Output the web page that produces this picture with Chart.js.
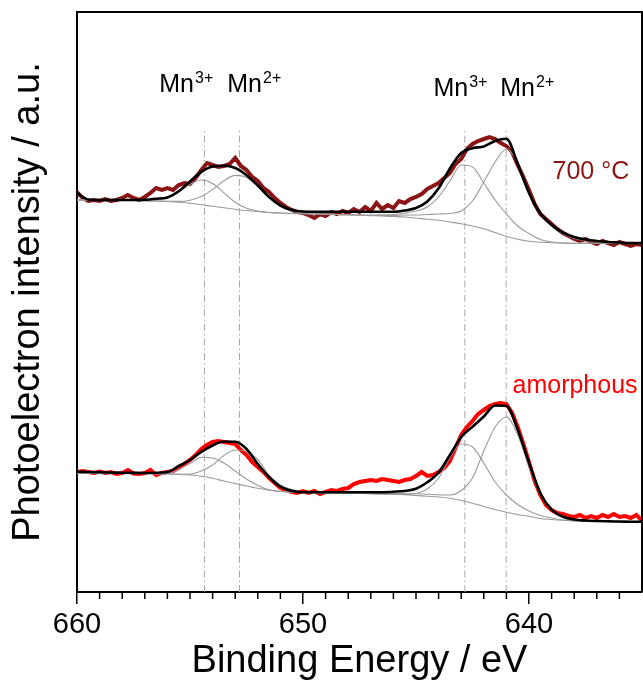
<!DOCTYPE html>
<html>
<head>
<meta charset="utf-8">
<title>Mn 2p XPS</title>
<script src="https://cdn.jsdelivr.net/npm/chart.js@4.4.1/dist/chart.umd.min.js"></script>
<style>
  html, body { margin: 0; padding: 0; background: #fff; }
  #wrap { width: 643px; height: 684px; }
</style>
</head>
<body>
<div id="wrap"><canvas id="xps"></canvas></div>
<script>
// --- binding energies (eV) ---
const energyFit = [
  660, 659.5, 659, 658.5, 658, 657.5, 657, 656.5, 656, 655.5,
  655, 654.5, 654, 653.5, 653, 652.5, 652, 651.5, 651, 650.5,
  650, 649.5, 649, 648.5, 648, 647.5, 647, 646.5, 646, 645.5,
  645, 644.5, 644, 643.5, 643, 642.5, 642, 641.5, 641, 640.5,
  640, 639.5, 639, 638.5, 638, 637.5, 637, 636.5, 636, 635.5, 635
];
const energyRaw = [
  660, 659.75, 659.5, 659.25, 659, 658.75, 658.5, 658.25, 658, 657.75,
  657.5, 657.25, 657, 656.75, 656.5, 656.25, 656, 655.75, 655.5, 655.25,
  655, 654.75, 654.5, 654.25, 654, 653.75, 653.5, 653.25, 653, 652.75,
  652.5, 652.25, 652, 651.75, 651.5, 651.25, 651, 650.75, 650.5, 650.25,
  650, 649.75, 649.5, 649.25, 649, 648.75, 648.5, 648.25, 648, 647.75,
  647.5, 647.25, 647, 646.75, 646.5, 646.25, 646, 645.75, 645.5, 645.25,
  645, 644.75, 644.5, 644.25, 644, 643.75, 643.5, 643.25, 643, 642.75,
  642.5, 642.25, 642, 641.75, 641.5, 641.25, 641, 640.75, 640.5, 640.25,
  640, 639.75, 639.5, 639.25, 639, 638.75, 638.5, 638.25, 638, 637.75,
  637.5, 637.25, 637, 636.75, 636.5, 636.25, 636, 635.75, 635.5, 635.25, 635
];

// --- 700 °C spectrum (offset upward) ---
const rawTop = [
  400, 394, 391, 392, 391, 393, 391, 392, 394, 397,
  394, 392, 395, 399, 404, 402, 404, 402, 407, 409,
  408, 414, 422, 429, 427, 425, 426, 428, 434, 426,
  422, 415, 411, 404, 400, 394, 389, 385, 382, 380,
  379, 377, 374, 378, 376, 380, 378, 381, 379, 383,
  380, 385, 381, 389, 383, 387, 384, 391, 389, 393,
  395, 398, 403, 406, 409, 414, 419, 428, 433, 443,
  448, 451, 453, 455, 453, 449, 446, 440, 427, 415,
  402, 388, 378, 373, 368, 363, 359, 356, 353, 351,
  353, 350, 348, 351, 349, 347, 350, 348, 346, 348, 347
];
const envelopeTop = [
  399, 392.5, 392, 392, 392, 392, 392.2, 393.2, 394.6, 400.8,
  410.6, 420.1, 425.4, 426.2, 424, 416.8, 406.5, 395, 386.5, 382,
  380.5, 380.3, 380.3, 380.3, 380.3, 380.3, 380.3, 380.3, 380.3, 381.5,
  384, 390.5, 403.7, 423.5, 439, 443.8, 445.5, 451, 453.2, 428.3,
  399, 378.7, 367, 359.5, 355, 352.5, 351, 350, 349.5, 349, 349
];
const backgroundTop = [
  392, 392, 392, 392, 391.7, 391.5, 391.2, 391, 390.5, 389.7,
  388.7, 387.3, 385.7, 384.2, 382.8, 381.5, 380.5, 379.5, 379, 378.5,
  378.2, 378, 377.8, 377.5, 377.2, 376.8, 376.4, 376, 375.5, 375,
  374, 372.7, 371.7, 370, 368.2, 366, 363.2, 359.5, 355.7, 352.7,
  350.7, 349.7, 349.2, 349, 348.8, 348.8, 348.8, 348.8, 348.8, 348.8, 348.8
];
const mn3Top = [
  392, 392, 392, 392, 391.7, 391.5, 391.4, 392, 394.4, 399.9,
  407.5, 412, 408.6, 399.2, 389.8, 383.8, 381, 379.5, 379, 378.5,
  378.2, 378, 377.8, 377.5, 377.2, 377, 377, 377.2, 377.5, 379,
  381, 385, 395, 411, 427, 425, 409, 392, 378, 366,
  358.5, 352.5, 350, 349, 348.8, 348.8, 348.8, 348.8, 348.8, 348.8, 348.8
];
const mn2Top = [
  392, 392, 392, 392, 391.7, 391.5, 391.2, 391, 390.7, 390.6,
  391.8, 395.4, 402.5, 411.2, 416.6, 414.5, 405.5, 394.3, 385.8, 380.9,
  378.9, 378.2, 377.8, 377.5, 377.2, 376.8, 376.5, 376.5, 376.5, 377,
  377, 377.5, 378, 378.5, 381, 391, 410, 430, 443, 429,
  399, 378.5, 366, 358.5, 353.5, 351.5, 350, 349.2, 348.8, 348.8, 348.8
];

// --- amorphous spectrum ---
const rawBottom = [
  120, 121, 120, 119, 120.5, 119, 120, 118, 119, 122,
  118.5, 118, 119, 122, 117, 119, 120, 121, 124, 128,
  132, 137, 143, 147, 150, 151, 150, 149, 148, 142,
  137, 130, 125, 120, 114, 109, 104, 102, 100, 99,
  101, 99, 101, 98, 100, 102, 101, 103, 104, 108,
  110, 111, 112, 111, 113, 112, 111, 110, 112, 113,
  116, 120, 116, 117, 120, 124, 131, 144, 157, 165,
  171, 178, 182, 186, 188, 189, 188, 179, 165, 148,
  130, 111, 97, 87, 82, 79, 78, 76, 75, 77,
  74, 76, 74, 77, 75, 78, 75, 76, 74, 77, 71
];
const envelopeBottom = [
  120.3, 120, 119.7, 119.5, 119.3, 119.1, 119, 119.2, 120, 126,
  132, 140, 146.5, 150.5, 150.2, 143, 128, 115, 105.3, 101.2,
  99.7, 99.7, 99.7, 99.7, 99.7, 99.7, 99.7, 99.8, 100.3, 101,
  103.2, 109.7, 119.5, 137, 155, 165.3, 175.5, 186.5, 186, 162.4,
  129.3, 98.7, 82.4, 75.2, 72.5, 71.5, 71, 70.7, 70.5, 70.3, 70.3
];
const backgroundBottom = [
  118.7, 118.7, 118.7, 118.7, 118.7, 118.6, 118.5, 118.3, 118, 117.6,
  117, 115.8, 113.7, 111, 108.5, 106, 103.7, 101.8, 100.5, 99.8,
  99.5, 99.3, 99.1, 98.9, 98.7, 98.5, 98.3, 98, 97.7, 97.2,
  96.5, 95.7, 95, 93.7, 91.5, 88.7, 85.5, 82.5, 79.8, 77.5,
  75.7, 73.5, 72.5, 71.7, 71.2, 70.8, 70.5, 70.4, 70.3, 70.3, 70.3
];
const mn3Bottom = [
  118.7, 118.7, 118.7, 118.7, 118.7, 118.6, 118.5, 118.4, 118.4, 122.5,
  128.5, 134.7, 134, 129, 121, 113, 106.5, 102.2, 100.5, 99.8,
  99.5, 99.3, 99.1, 98.9, 98.7, 98.5, 98.3, 98, 97.7, 97.5,
  98.5, 103, 114, 134, 148, 145, 129, 110, 97, 87.5,
  81, 76.5, 74, 72, 71, 70.7, 70.5, 70.4, 70.3, 70.3, 70.3
];
const mn2Bottom = [
  118.7, 118.7, 118.7, 118.7, 118.7, 118.6, 118.5, 118.3, 118, 117.8,
  118, 121, 127, 136.5, 142, 140.5, 132.5, 116.5, 107, 102.5,
  100, 99.5, 99.3, 99.1, 98.9, 98.7, 98.6, 98.5, 98.5, 98.5,
  98.2, 97.8, 97.2, 97, 101.5, 114, 141, 165, 175, 157,
  125, 97, 82.5, 75.5, 73, 71.5, 71, 70.7, 70.5, 70.3, 70.3
];

// peak positions marked with dash-dot lines (eV)
const peakCenters = [654.36, 652.81, 642.84, 641.01];
const markerTop = 464;

const FONT = "'Liberation Sans', Arial, Helvetica, sans-serif";
const DARK_RED = '#8b1515';
const RED = '#ff0000';
const GREY = '#9a9a9a';

const pts = (xs, ys) => xs.map((e, i) => ({ x: e, y: ys[i] }));

function fitLine(ys, color, width) {
  return {
    data: pts(energyFit, ys),
    borderColor: color,
    borderWidth: width,
    pointRadius: 0,
    fill: false,
    cubicInterpolationMode: 'monotone'
  };
}

function rawLine(ys, color) {
  return {
    data: pts(energyRaw, ys),
    borderColor: color,
    borderWidth: 4,
    pointRadius: 0,
    fill: false,
    tension: 0
  };
}

// first dataset is drawn on top
const datasets = [
  fitLine(envelopeTop, '#000', 2.6),
  fitLine(envelopeBottom, '#000', 2.6),
  fitLine(backgroundTop, GREY, 1.1),
  fitLine(mn3Top, GREY, 1.1),
  fitLine(mn2Top, GREY, 1.1),
  fitLine(backgroundBottom, GREY, 1.1),
  fitLine(mn3Bottom, GREY, 1.1),
  fitLine(mn2Bottom, GREY, 1.1),
  rawLine(rawTop, DARK_RED),
  rawLine(rawBottom, RED),
  ...peakCenters.map(e => ({
    data: [{ x: e, y: 0 }, { x: e, y: markerTop }],
    borderColor: '#a8a8a8',
    borderWidth: 1,
    borderDash: [7, 3, 1.5, 3],
    pointRadius: 0
  }))
];

// frame, minor ticks and text labels
const decorations = {
  id: 'decorations',
  afterDraw(chart) {
    const { ctx, chartArea: a, scales: { x, y } } = chart;
    ctx.save();
    ctx.strokeStyle = '#000';
    ctx.lineWidth = 2;
    ctx.beginPath();
    ctx.moveTo(a.left, a.top);
    ctx.lineTo(a.right, a.top);
    ctx.lineTo(a.right, a.bottom);
    ctx.stroke();

    ctx.lineWidth = 1.5;
    for (let e = 636; e < 660; e++) {
      if (e % 10 === 0) continue;
      const px = x.getPixelForValue(e);
      ctx.beginPath();
      ctx.moveTo(px, a.bottom);
      ctx.lineTo(px, a.bottom + 7);
      ctx.stroke();
    }

    ctx.textAlign = 'left';
    ctx.textBaseline = 'alphabetic';
    const ions = [
      { sup: '3+', e: 656.36, v: 500 },
      { sup: '2+', e: 653.35, v: 500 },
      { sup: '3+', e: 644.23, v: 496 },
      { sup: '2+', e: 641.27, v: 496 }
    ];
    ctx.fillStyle = '#000';
    ions.forEach(l => {
      const px = x.getPixelForValue(l.e);
      const py = y.getPixelForValue(l.v);
      ctx.font = `25px ${FONT}`;
      ctx.fillText('Mn', px, py);
      const w = ctx.measureText('Mn').width;
      ctx.font = `16px ${FONT}`;
      ctx.fillText(l.sup, px + w + 1, py - 9);
    });

    ctx.font = `25px ${FONT}`;
    ctx.fillStyle = DARK_RED;
    ctx.fillText('700 \u00B0C', x.getPixelForValue(638.96), y.getPixelForValue(413));
    ctx.fillStyle = RED;
    ctx.fillText('amorphous', x.getPixelForValue(640.73), y.getPixelForValue(199));
    ctx.restore();
  }
};

new Chart(document.getElementById('xps'), {
  type: 'line',
  data: { datasets },
  plugins: [decorations],
  options: {
    responsive: true,
    maintainAspectRatio: false,
    animation: false,
    layout: { padding: { top: 12, right: 1, left: 0, bottom: 0 } },
    plugins: {
      legend: { display: false },
      tooltip: { enabled: false }
    },
    scales: {
      x: {
        type: 'linear',
        reverse: true,
        min: 635,
        max: 660,
        afterFit: s => { s.height = 92; },
        border: { display: true, color: '#000', width: 2 },
        grid: {
          display: true, drawOnChartArea: false, drawTicks: true,
          tickLength: 12, color: '#000', lineWidth: 1.5
        },
        ticks: {
          stepSize: 10, includeBounds: false, color: '#000', padding: 4,
          font: { family: FONT, size: 29 }
        },
        title: {
          display: true, text: 'Binding Energy / eV', color: '#000',
          font: { family: FONT, size: 38 }, padding: { top: 0, bottom: 0 }
        }
      },
      y: {
        min: 0,
        max: 580,
        afterFit: s => { s.width = 77; },
        grid: { display: false },
        border: { display: true, color: '#000', width: 2 },
        ticks: { display: false },
        title: {
          display: true, text: 'Photoelectron intensity / a.u.', color: '#000',
          font: { family: FONT, size: 38 }, padding: { top: 6, bottom: 0 }
        }
      }
    }
  }
});
</script>
</body>
</html>
